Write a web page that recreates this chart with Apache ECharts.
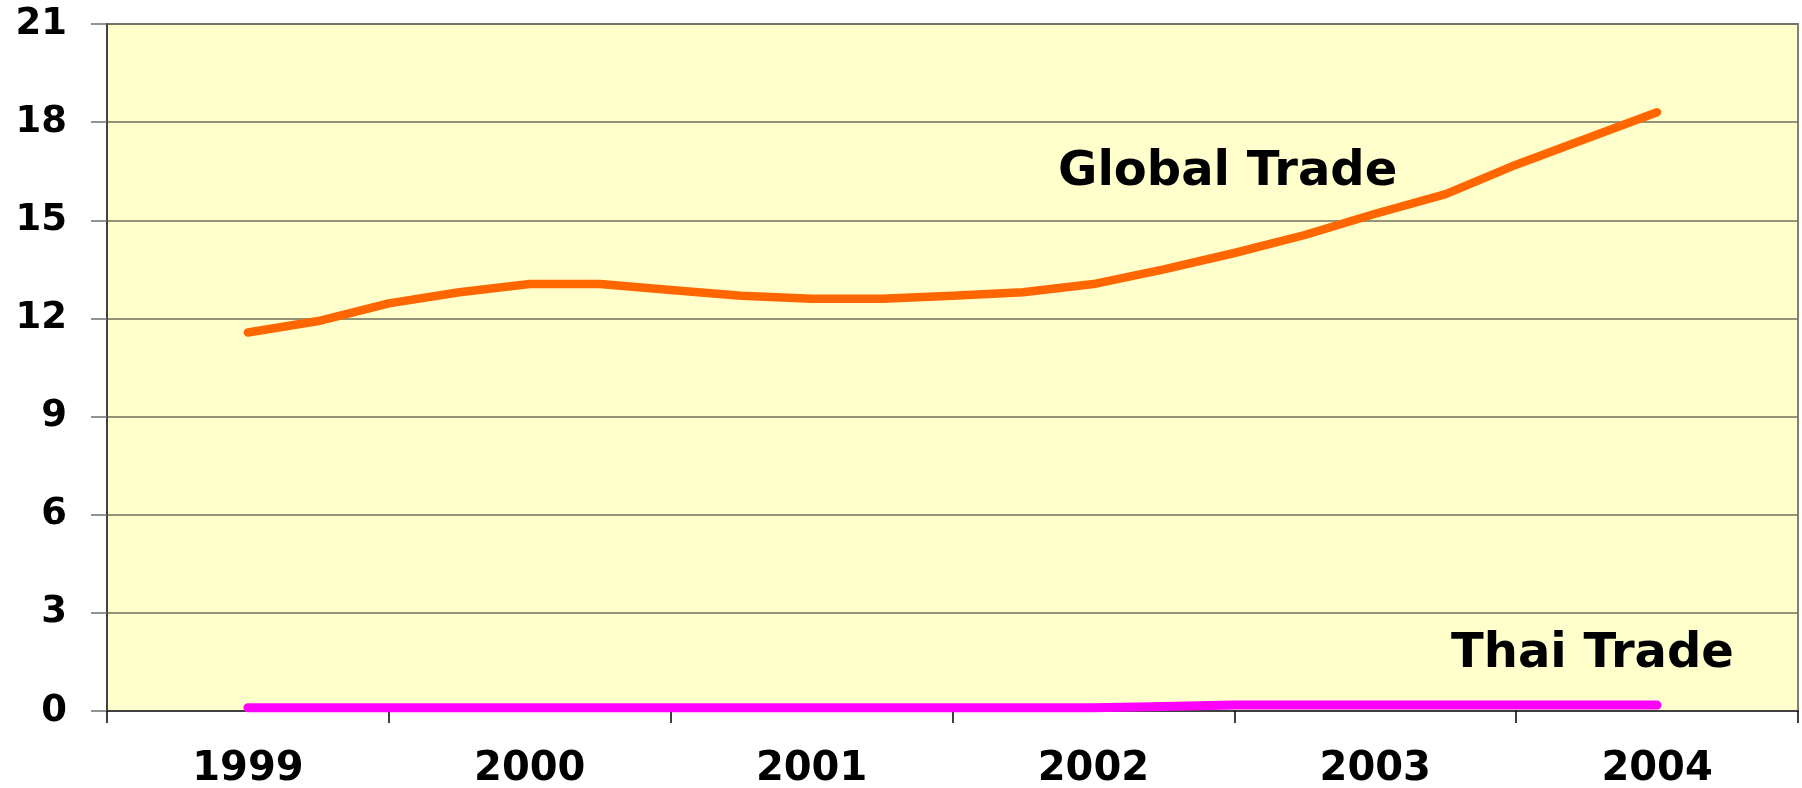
<!DOCTYPE html>
<html>
<head>
<meta charset="utf-8">
<script src="https://cdn.jsdelivr.net/npm/echarts@6/dist/echarts.min.js"></script>
<style>
html,body{margin:0;padding:0;background:#fff;}
#c{width:1802px;height:788px;}
</style>
</head>
<body>
<div id="c"></div>
<script>
// Year categories on the x axis
var years = ['1999', '2000', '2001', '2002', '2003', '2004'];
// Quarterly positions (in years) for the line points
var quarters = [1999, 1999.25, 1999.5, 1999.75, 2000, 2000.25, 2000.5, 2000.75,
                2001, 2001.25, 2001.5, 2001.75, 2002, 2002.25, 2002.5, 2002.75,
                2003, 2003.25, 2003.5, 2003.75, 2004];
var globalTrade = [11.57, 11.92, 12.46, 12.80, 13.05, 13.05, 12.87, 12.69,
                   12.60, 12.60, 12.69, 12.80, 13.05, 13.50, 14.00, 14.55,
                   15.20, 15.80, 16.70, 17.50, 18.30];
var thaiTrade = [0.10, 0.10, 0.10, 0.10, 0.10, 0.10, 0.10, 0.10,
                 0.10, 0.10, 0.10, 0.10, 0.10, 0.14, 0.18, 0.18,
                 0.18, 0.18, 0.18, 0.18, 0.18];
var yTicks = { min: 0, max: 21, interval: 3 };
var annotations = [
  { text: 'Global Trade', x: 1058, y: 173 },
  { text: 'Thai Trade', x: 1451, y: 655 }
];

function pairs(xs, ys) {
  var out = [];
  for (var i = 0; i < xs.length; i++) out.push([xs[i], ys[i]]);
  return out;
}

var FONT = 'DejaVu Sans';
var chart = echarts.init(document.getElementById('c'));
chart.setOption({
  animation: false,
  backgroundColor: '#ffffff',
  grid: {
    left: 107, top: 24, right: 4, bottom: 77,
    containLabel: false, outerBoundsMode: 'none',
    show: true, backgroundColor: '#FFFFCC', borderColor: '#808080', borderWidth: 2
  },
  xAxis: [{
    type: 'category',
    data: years,
    boundaryGap: true,
    axisLine: { show: true, lineStyle: { color: '#404040', width: 2 } },
    axisTick: { show: true, length: 12, lineStyle: { color: '#000', width: 1.5 } },
    axisLabel: { color: '#000', fontFamily: FONT, fontWeight: 'bold', fontSize: 40, margin: 39 },
    splitLine: { show: false }
  }, {
    type: 'value',
    min: 1998.5, max: 2004.5,
    show: false,
    splitLine: { show: false }
  }],
  yAxis: {
    type: 'value',
    min: yTicks.min, max: yTicks.max, interval: yTicks.interval,
    axisLine: { show: true, lineStyle: { color: '#404040', width: 2 } },
    axisTick: { show: true, length: 16, lineStyle: { color: '#707070', width: 1.5 } },
    axisLabel: { color: '#000', fontFamily: FONT, fontWeight: 'bold', fontSize: 37, margin: 40 },
    splitLine: { show: true, lineStyle: { color: '#6f6f5f', width: 1.5 } }
  },
  series: [{
    type: 'line',
    xAxisIndex: 1,
    data: pairs(quarters, globalTrade),
    showSymbol: false,
    lineStyle: { color: '#FF6600', width: 8.5, cap: 'round', join: 'round' },
    z: 3
  }, {
    type: 'line',
    xAxisIndex: 1,
    data: pairs(quarters, thaiTrade),
    showSymbol: false,
    lineStyle: { color: '#FF00FF', width: 9, cap: 'round', join: 'round' },
    z: 3
  }],
  graphic: annotations.map(function (a) {
    return {
      type: 'text', left: a.x, top: a.y - 24, z: 10,
      style: { text: a.text, fill: '#000', font: 'bold 48px "' + FONT + '"' }
    };
  })
});
</script>
</body>
</html>
